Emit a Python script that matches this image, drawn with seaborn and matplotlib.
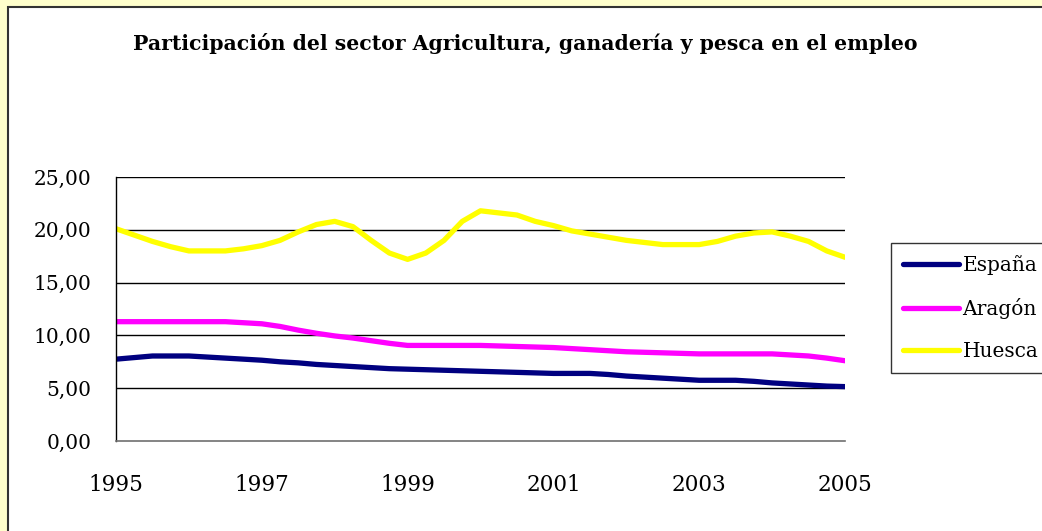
import matplotlib
matplotlib.use('Agg')
import matplotlib.pyplot as plt
import seaborn as sns
import pandas as pd
from matplotlib.patches import Rectangle
from matplotlib.lines import Line2D
from matplotlib.ticker import FuncFormatter

# trimestres 1995-2005
periodos = [1995.0, 1995.25, 1995.5, 1995.75, 1996.0, 1996.25, 1996.5, 1996.75,
            1997.0, 1997.25, 1997.5, 1997.75, 1998.0, 1998.25, 1998.5, 1998.75,
            1999.0, 1999.25, 1999.5, 1999.75, 2000.0, 2000.25, 2000.5, 2000.75,
            2001.0, 2001.25, 2001.5, 2001.75, 2002.0, 2002.25, 2002.5, 2002.75,
            2003.0, 2003.25, 2003.5, 2003.75, 2004.0, 2004.25, 2004.5, 2004.75,
            2005.0]

espana = [7.75, 7.9, 8.05, 8.05, 8.05, 7.95, 7.85, 7.75,
          7.65, 7.5, 7.4, 7.25, 7.15, 7.05, 6.95, 6.85,
          6.8, 6.75, 6.7, 6.65, 6.6, 6.55, 6.5, 6.45,
          6.4, 6.4, 6.4, 6.3, 6.15, 6.05, 5.95, 5.85,
          5.75, 5.75, 5.75, 5.65, 5.5, 5.4, 5.3, 5.2,
          5.15]
aragon = [11.3, 11.3, 11.3, 11.3, 11.3, 11.3, 11.3, 11.2,
          11.1, 10.85, 10.5, 10.2, 9.95, 9.75, 9.5, 9.25,
          9.05, 9.05, 9.05, 9.05, 9.05, 9.0, 8.95, 8.9,
          8.85, 8.75, 8.65, 8.55, 8.45, 8.4, 8.35, 8.3,
          8.25, 8.25, 8.25, 8.25, 8.25, 8.15, 8.05, 7.85,
          7.6]
huesca = [20.1, 19.5, 18.9, 18.4, 18.0, 18.0, 18.0, 18.2,
          18.5, 19.0, 19.8, 20.5, 20.8, 20.3, 19.0, 17.8,
          17.2, 17.8, 19.0, 20.8, 21.8, 21.6, 21.4, 20.8,
          20.4, 19.9, 19.6, 19.3, 19.0, 18.8, 18.6, 18.6,
          18.6, 18.9, 19.4, 19.7, 19.8, 19.4, 18.9, 18.0,
          17.4]

series = ['España', 'Aragón', 'Huesca']
colores = ['#000080', '#FF00FF', '#FFFF00']
x_ticks = [1995, 1997, 1999, 2001, 2003, 2005]
y_ticks = [0, 5, 10, 15, 20, 25]

df = pd.DataFrame({
    'periodo': periodos * 3,
    'valor': espana + aragon + huesca,
    'serie': [s for s in series for _ in periodos],
})

sns.set_style('white')
plt.rcParams['font.family'] = ['DejaVu Serif']
plt.rcParams['text.color'] = 'black'

fig = plt.figure(figsize=(10.42, 5.31), dpi=100)
fig.patch.set_facecolor('#FFFFCC')
# marco blanco del grafico
fig.patches.append(Rectangle((8 / 1042, -0.05), 1.1, 1 - 7 / 531 + 0.05,
                             transform=fig.transFigure, facecolor='white',
                             edgecolor='#333333', linewidth=1.5, zorder=-5))

ax = fig.add_axes([116 / 1042, 1 - 441 / 531, (845 - 116) / 1042, (441 - 177) / 531])
ax.set_facecolor('none')
ax.set_zorder(2)

sns.lineplot(data=df, x='periodo', y='valor', hue='serie', palette=colores,
             hue_order=series, linewidth=3.8, legend=False, ax=ax,
             solid_capstyle='round')

ax.set_xlim(1995, 2005)
ax.set_ylim(0, 25)
ax.set_xticks(x_ticks)
ax.set_yticks(y_ticks)
ax.yaxis.set_major_formatter(FuncFormatter(lambda v, p: f'{v:.2f}'.replace('.', ',')))
ax.set_xlabel('')
ax.set_ylabel('')

for v in y_ticks[1:]:
    ax.axhline(v, color='black', linewidth=1, zorder=1)

ax.spines['top'].set_visible(False)
ax.spines['right'].set_visible(False)
ax.spines['left'].set_color('black')
ax.spines['bottom'].set_color('#707070')
ax.spines['left'].set_linewidth(1)
ax.spines['bottom'].set_linewidth(1.2)
ax.tick_params(axis='both', direction='out', length=6.5, width=1,
               colors='black', labelcolor='black')
ax.tick_params(axis='y', pad=11, labelsize=14.5)
ax.tick_params(axis='x', pad=17, labelsize=15.5, color='#707070')

fig.text(525 / 1042, 1 - 44 / 531, 'Participación del sector Agricultura, ganadería y pesca en el empleo',
         ha='center', va='center', fontsize=14.7, fontweight='bold', color='black')

handles = [Line2D([], [], color=c, linewidth=3.8, solid_capstyle='round') for c in colores]
leg = fig.legend(handles, series, loc='upper left', bbox_to_anchor=(891 / 1042, 1 - 243 / 531),
                 frameon=True, fancybox=False, edgecolor='black', fontsize=14.5,
                 handlelength=2.8, handletextpad=0.15, labelspacing=1.15,
                 borderpad=0.6, borderaxespad=0)
leg.get_frame().set_linewidth(1)
for t in leg.get_texts():
    t.set_color('black')

fig.savefig('out.png', dpi=100, facecolor=fig.get_facecolor())
